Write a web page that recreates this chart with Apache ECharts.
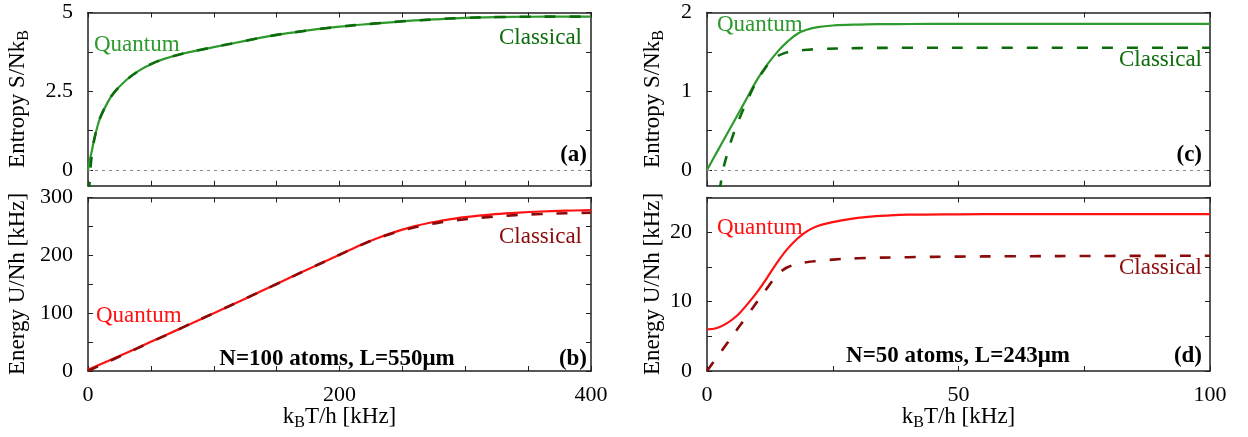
<!DOCTYPE html>
<html>
<head>
<meta charset="utf-8">
<title>Entropy and energy: quantum vs classical</title>
<script src="https://cdn.jsdelivr.net/npm/echarts@6/dist/echarts.min.js"></script>
<style>
  html, body { margin: 0; padding: 0; background: #ffffff; }
  #chart { width: 1248px; height: 437px; }
</style>
</head>
<body>
<div id="chart"></div>
<script>
// ---- N=100 atoms, L=550 um : entropy S/NkB vs kBT/h [kHz] ----
const tEntropyQ100 = [0, 0.5, 1, 2, 3, 4, 5, 7.5, 10, 15, 20, 30, 40, 50, 60, 75, 90, 100, 125, 150, 175, 200, 225, 250, 275, 300, 325, 350, 375, 400];
const sQuantum100  = [0, 0.12, 0.22, 0.42, 0.6, 0.8, 0.98, 1.38, 1.69, 2.1, 2.42, 2.84, 3.14, 3.36, 3.52, 3.69, 3.82, 3.9, 4.1, 4.29, 4.43, 4.55, 4.64, 4.72, 4.78, 4.83, 4.855, 4.865, 4.87, 4.87];
const tEntropyC100 = [0.9, 1, 1.5, 2, 3, 4, 5, 7.5, 10, 15, 20, 30, 40, 50, 60, 75, 90, 100, 125, 150, 175, 200, 225, 250, 275, 300, 325, 350, 375, 400];
const sClassical100 = [-0.72, -0.62, -0.22, 0.07, 0.47, 0.76, 0.98, 1.38, 1.69, 2.1, 2.42, 2.84, 3.14, 3.36, 3.52, 3.69, 3.82, 3.9, 4.1, 4.29, 4.43, 4.55, 4.64, 4.72, 4.78, 4.83, 4.855, 4.865, 4.87, 4.87];

// ---- N=100 atoms : energy U/Nh [kHz] ----
const tEnergy100 = [0, 25, 50, 75, 100, 125, 150, 175, 200, 210, 220, 230, 240, 250, 260, 270, 280, 290, 300, 320, 340, 360, 380, 400];
const uQuantum100 = [2, 26, 50.5, 75, 100, 125, 150.5, 176, 201, 211, 221, 229.5, 237.5, 244.5, 250.5, 255.5, 259.5, 263, 266, 270.5, 273.5, 275.8, 277.2, 278];
const uClassical100 = [0, 25, 50, 75, 100, 125, 150.5, 176, 201, 211, 220.5, 229, 236.5, 243, 248.5, 253, 257, 260, 262.5, 266.5, 269.5, 271.5, 272.8, 273.6];

// ---- N=50 atoms, L=243 um : entropy ----
const tEntropyQ50 = [0, 2, 4, 6, 8, 10, 12, 14, 16, 18, 20, 22, 25, 30, 35, 40, 50, 60, 80, 100];
const sQuantum50  = [0, 0.23, 0.46, 0.69, 0.92, 1.15, 1.34, 1.5, 1.63, 1.73, 1.785, 1.815, 1.835, 1.847, 1.852, 1.854, 1.855, 1.855, 1.855, 1.855];
const tEntropyC50 = [2.5, 3.2, 4, 5, 6, 7, 8, 9, 10, 11, 12, 13, 14, 15, 16, 18, 20, 23, 30, 40, 60, 100];
const sClassical50 = [-0.27, 0, 0.2, 0.41, 0.58, 0.74, 0.88, 1.02, 1.14, 1.24, 1.33, 1.4, 1.445, 1.475, 1.495, 1.515, 1.527, 1.538, 1.548, 1.552, 1.553, 1.553];

// ---- N=50 atoms : energy ----
const tEnergyQ50 = [0, 2, 4, 6, 8, 10, 12, 14, 16, 18, 20, 22, 25, 28, 32, 36, 40, 50, 60, 80, 100];
const uQuantum50 = [6.0, 6.2, 6.9, 8.0, 9.6, 11.4, 13.5, 15.7, 17.6, 19.1, 20.2, 20.9, 21.45, 21.85, 22.2, 22.4, 22.52, 22.58, 22.6, 22.6, 22.6];
const tEnergyC50 = [0, 2, 4, 6, 8, 10, 12, 13, 14, 15, 16, 18, 20, 22, 25, 30, 40, 50, 60, 80, 100];
const uClassical50 = [0, 2, 4, 6, 8, 10, 12, 13, 13.85, 14.5, 14.95, 15.45, 15.7, 15.85, 16.05, 16.25, 16.4, 16.48, 16.53, 16.58, 16.6];

// ---- ticks and labels ----
const xTicks400 = [0, 50, 100, 150, 200, 250, 300, 350, 400];
const xLabels400 = [0, 200, 400];
const xTicks100 = [0, 25, 50, 75, 100];
const xLabels100 = [0, 50, 100];
const yTicksS100 = [0, 1.25, 2.5, 3.75, 5];
const yLabelsS100 = [0, 2.5, 5];
const yTicksU100 = [0, 50, 100, 150, 200, 250, 300];
const yLabelsU100 = [0, 100, 200, 300];
const yTicksS50 = [0, 0.5, 1, 1.5, 2];
const yLabelsS50 = [0, 1, 2];
const yTicksU50 = [0, 5, 10, 15, 20, 25];
const yLabelsU50 = [0, 10, 20];

const FONT = "'Times New Roman', Times, 'Liberation Serif', 'DejaVu Serif', 'Noto Serif', serif";
const FRAME = '#222';
const GREEN = '#2e9a2e';
const DARK_GREEN = '#0c6c0c';
const RED = '#ff1111';
const DARK_RED = '#8b0a0a';

const grids = [
  { left: 88, top: 12.5, width: 503, height: 173.25 },
  { left: 88, top: 197.5, width: 503, height: 173.5 },
  { left: 707, top: 12.5, width: 503, height: 173.25 },
  { left: 707, top: 197.5, width: 503, height: 173.5 }
];

const xAxes = [];
const yAxes = [];

function addAxes(gi, xr, xt, xl, showX, yr, yt, yl) {
  const line = { show: true, onZero: false, lineStyle: { color: FRAME, width: 1.5 } };
  const tick = (vals) => ({ show: true, inside: true, length: 5, customValues: vals, lineStyle: { color: FRAME, width: 1 } });
  xAxes.push({
    type: 'value', gridIndex: gi, min: xr[0], max: xr[1], position: 'bottom',
    axisLine: line, axisTick: tick(xt), splitLine: { show: false },
    axisLabel: { show: showX, customValues: xl, fontFamily: FONT, fontSize: 22, color: '#000', margin: 13 }
  });
  xAxes.push({
    type: 'value', gridIndex: gi, min: xr[0], max: xr[1], position: 'top',
    axisLine: line, axisTick: tick(xt), splitLine: { show: false }, axisLabel: { show: false }
  });
  yAxes.push({
    type: 'value', gridIndex: gi, min: yr[0], max: yr[1], position: 'left',
    axisLine: line, axisTick: tick(yt), splitLine: { show: false },
    axisLabel: { show: true, customValues: yl, fontFamily: FONT, fontSize: 22, color: '#000', margin: 15 }
  });
  yAxes.push({
    type: 'value', gridIndex: gi, min: yr[0], max: yr[1], position: 'right',
    axisLine: line, axisTick: tick(yt), splitLine: { show: false }, axisLabel: { show: false }
  });
}

addAxes(0, [0, 400], xTicks400, xLabels400, false, [-0.5, 5], yTicksS100, yLabelsS100);
addAxes(1, [0, 400], xTicks400, xLabels400, true, [0, 300], yTicksU100, yLabelsU100);
addAxes(2, [0, 100], xTicks100, xLabels100, false, [-0.2, 2], yTicksS50, yLabelsS50);
addAxes(3, [0, 100], xTicks100, xLabels100, true, [0, 25], yTicksU50, yLabelsU50);

const zip = (xs, ys) => xs.map((x, i) => [x, ys[i]]);

const zeroLine = {
  silent: true, symbol: 'none', label: { show: false },
  lineStyle: { color: '#8a8a8a', type: [3, 4], width: 1.2 },
  data: [{ yAxis: 0 }]
};

function curve(gi, xs, ys, color, dashed, extra) {
  return Object.assign({
    type: 'line', xAxisIndex: gi * 2, yAxisIndex: gi * 2,
    data: zip(xs, ys), showSymbol: false, symbol: 'none',
    smooth: 0.4, clip: true,
    lineStyle: { color: color, width: dashed ? 2.6 : 2.2, type: dashed ? [11, 14] : 'solid' }
  }, extra || {});
}

const series = [
  curve(0, tEntropyQ100, sQuantum100, GREEN, false, { markLine: zeroLine }),
  curve(0, tEntropyC100, sClassical100, DARK_GREEN, true),
  curve(1, tEnergy100, uQuantum100, RED, false),
  curve(1, tEnergy100, uClassical100, DARK_RED, true),
  curve(2, tEntropyQ50, sQuantum50, GREEN, false, { markLine: zeroLine }),
  curve(2, tEntropyC50, sClassical50, DARK_GREEN, true),
  curve(3, tEnergyQ50, uQuantum50, RED, false),
  curve(3, tEnergyC50, uClassical50, DARK_RED, true)
];

function label(text, x, y, color, align, bold) {
  return {
    type: 'text', x: x, y: y, silent: true,
    style: {
      text: text, fill: color, fontFamily: FONT, fontSize: 23,
      fontWeight: bold ? 'bold' : 'normal', align: align, verticalAlign: 'middle'
    }
  };
}

function subTitle(main, sub, rest, x, y, rotated) {
  return {
    type: 'text', x: x, y: y, rotation: rotated ? Math.PI / 2 : 0, silent: true,
    style: {
      text: '{m|' + main + '}' + (sub ? '{s|' + sub + '}' : '') + (rest ? '{m|' + rest + '}' : ''),
      align: 'center', verticalAlign: 'middle',
      rich: {
        m: { fontFamily: FONT, fontSize: 23, lineHeight: 28, fill: '#000', verticalAlign: 'middle' },
        s: { fontFamily: FONT, fontSize: 16, lineHeight: 15, fill: '#000', verticalAlign: 'bottom' }
      }
    }
  };
}

const graphics = [
  subTitle('Entropy S/Nk', 'B', '', 18, 99, true),
  subTitle('Energy U/Nh [kHz]', '', '', 18, 284, true),
  subTitle('Entropy S/Nk', 'B', '', 653, 99, true),
  subTitle('Energy U/Nh [kHz]', '', '', 653, 284, true),
  subTitle('k', 'B', 'T/h [kHz]', 339.5, 417, false),
  subTitle('k', 'B', 'T/h [kHz]', 958.5, 417, false),

  label('Quantum', 94, 45, GREEN, 'left'),
  label('Classical', 582, 37.5, DARK_GREEN, 'right'),
  label('(a)', 587, 155, '#000', 'right', true),

  label('Quantum', 96, 316, RED, 'left'),
  label('Classical', 582, 237, DARK_RED, 'right'),
  label('N=100 atoms, L=550\u03bcm', 337, 359, '#000', 'center', true),
  label('(b)', 587, 359, '#000', 'right', true),

  label('Quantum', 717, 25, GREEN, 'left'),
  label('Classical', 1202, 60, DARK_GREEN, 'right'),
  label('(c)', 1202, 155, '#000', 'right', true),

  label('Quantum', 717, 228, RED, 'left'),
  label('Classical', 1202, 268, DARK_RED, 'right'),
  label('N=50 atoms, L=243\u03bcm', 958, 356, '#000', 'center', true),
  label('(d)', 1202, 356, '#000', 'right', true)
];

const chart = echarts.init(document.getElementById('chart'), null, { renderer: 'canvas' });
chart.setOption({
  animation: false,
  backgroundColor: '#ffffff',
  grid: grids,
  xAxis: xAxes,
  yAxis: yAxes,
  series: series,
  graphic: graphics
});
</script>
</body>
</html>
